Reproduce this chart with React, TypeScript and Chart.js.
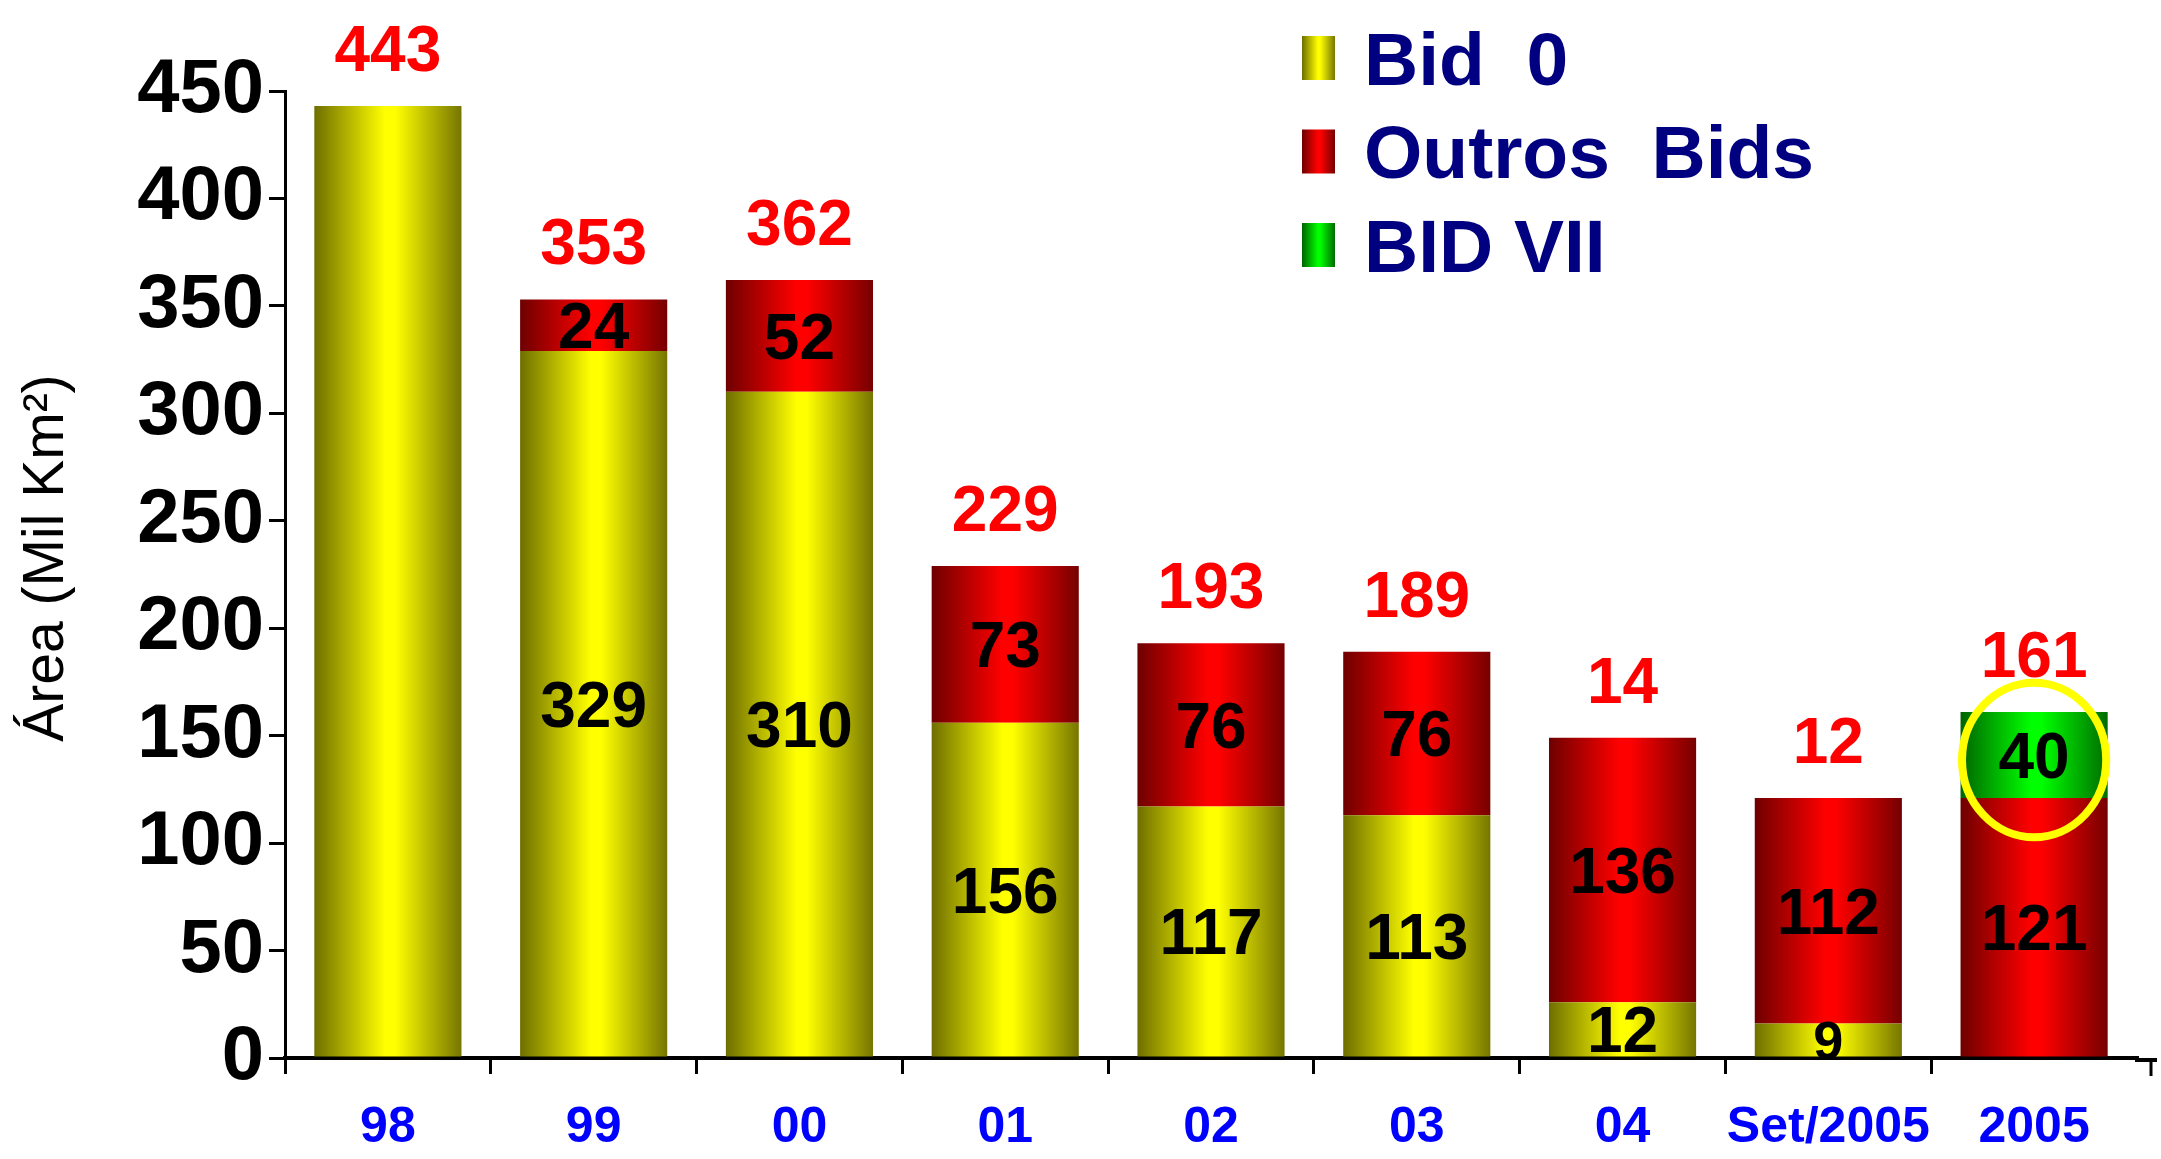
import React, { useEffect, useRef } from "react";
import { Chart, registerables } from "chart.js";

Chart.register(...registerables);

// ---------- data ----------
const categories = ["98", "99", "00", "01", "02", "03", "04", "Set/2005", "2005"];
const seriesNames = ["Bid  0", "Outros  Bids", "BID VII"];
const bid0Values = [443, 329, 310, 156, 117, 113, 26, 16, 0];
const outrosValues = [0, 24, 52, 73, 76, 76, 123, 105, 121];
const bidVIIValues = [0, 0, 0, 0, 0, 0, 0, 0, 40];
const bid0Labels = ["", "329", "310", "156", "117", "113", "12", "9", ""];
const outrosLabels = ["", "24", "52", "73", "76", "76", "136", "112", "121"];
const bidVIILabels = ["", "", "", "", "", "", "", "", "40"];
const totalLabels = ["443", "353", "362", "229", "193", "189", "14", "12", "161"];
const yMin = 0;
const yMax = 450;
const yStep = 50;
const yAxisTitle = "Área (Mil Km²)";
const highlightCategory = "2005";

// ---------- styles ----------
const FONT = "'Liberation Sans', Arial, Helvetica, sans-serif";
const BAR_PCT = 0.715;
const palettes = [
  ["#6e6e00", "#ffff00", "#767600"],
  ["#6e0000", "#ff0000", "#760000"],
  ["#006400", "#00ff00", "#006c00"],
];

function makeGrad(ctx: CanvasRenderingContext2D, x0: number, x1: number, pal: string[]) {
  const g = ctx.createLinearGradient(x0, 0, x1, 0);
  g.addColorStop(0, pal[0]);
  g.addColorStop(0.48, pal[1]);
  g.addColorStop(0.55, pal[1]);
  g.addColorStop(1, pal[2]);
  return g;
}

function barBg(pi: number) {
  return (c: any) => {
    const chart = c.chart;
    const xs = chart.scales && chart.scales.x;
    if (!xs || c.dataIndex === undefined) return palettes[pi][1];
    const cx = xs.getPixelForValue(c.dataIndex);
    const w = (xs.width / categories.length) * BAR_PCT;
    if (!isFinite(cx) || !isFinite(w) || w <= 0) return palettes[pi][1];
    return makeGrad(chart.ctx, cx - w / 2, cx + w / 2, palettes[pi]);
  };
}

const labelPlugin = {
  id: "valueLabels",
  afterDatasetsDraw(chart: any) {
    const ctx: CanvasRenderingContext2D = chart.ctx;
    const segLabels = [bid0Labels, outrosLabels, bidVIILabels];
    ctx.save();
    ctx.textAlign = "center";
    ctx.textBaseline = "alphabetic";
    segLabels.forEach((labels, di) => {
      const meta = chart.getDatasetMeta(di);
      labels.forEach((t, i) => {
        if (!t) return;
        const el = meta.data[i];
        const { x, y, base } = el.getProps(["x", "y", "base"], true);
        const h = Math.abs(base - y);
        const size = h < 50 ? 54 : 64;
        ctx.font = `bold ${size}px ${FONT}`;
        ctx.fillStyle = "#000000";
        ctx.fillText(t, x, (y + base) / 2 + size * 0.358);
      });
    });
    totalLabels.forEach((t, i) => {
      let top = Infinity;
      let x = 0;
      chart.data.datasets.forEach((ds: any, di: number) => {
        const el = chart.getDatasetMeta(di).data[i];
        if (ds.data[i] > 0) {
          const p = el.getProps(["x", "y"], true);
          if (p.y < top) top = p.y;
          x = p.x;
        }
      });
      ctx.font = `bold 64px ${FONT}`;
      ctx.fillStyle = "#ff0000";
      ctx.fillText(t, x, top - 58 + 64 * 0.358);
    });
    // highlight ellipse
    const hi = categories.indexOf(highlightCategory);
    if (hi >= 0) {
      const el = chart.getDatasetMeta(2).data[hi];
      const { x, y, base, width } = el.getProps(["x", "y", "base", "width"], true);
      ctx.beginPath();
      ctx.ellipse(x, (y + base) / 2 + 5, width * 0.49, width * 0.525, 0, 0, Math.PI * 2);
      ctx.strokeStyle = "#ffff00";
      ctx.lineWidth = 8;
      ctx.stroke();
    }
    ctx.restore();
  },
  afterDraw(chart: any) {
    const ctx: CanvasRenderingContext2D = chart.ctx;
    const ca = chart.chartArea;
    ctx.save();
    // x axis extension with end tick
    ctx.strokeStyle = "#000000";
    ctx.lineWidth = 4;
    ctx.beginPath();
    ctx.moveTo(ca.right - 2, ca.bottom + 2);
    ctx.lineTo(ca.right + 20, ca.bottom + 2);
    ctx.stroke();
    ctx.lineWidth = 3;
    ctx.beginPath();
    ctx.moveTo(ca.right + 14, ca.bottom + 2);
    ctx.lineTo(ca.right + 14, ca.bottom + 18);
    ctx.stroke();
    // y axis title
    ctx.save();
    ctx.translate(47, ca.top + (ca.bottom - ca.top) * 0.483);
    ctx.rotate(-Math.PI / 2);
    ctx.font = `normal 57px ${FONT}`;
    ctx.fillStyle = "#000000";
    ctx.textAlign = "center";
    ctx.textBaseline = "middle";
    ctx.fillText(yAxisTitle, 0, 0);
    ctx.restore();
    // legend
    const lx = 1302;
    const sw = 33;
    const sh = 44;
    const tx = 1364;
    const size = 75;
    ctx.font = `bold ${size}px ${FONT}`;
    ctx.textAlign = "left";
    ctx.textBaseline = "alphabetic";
    seriesNames.forEach((name, i) => {
      const cy = 58 + i * 93.5;
      ctx.fillStyle = makeGrad(ctx, lx, lx + sw, palettes[i]);
      ctx.fillRect(lx, cy - sh / 2, sw, sh);
      ctx.fillStyle = "#000080";
      ctx.fillText(name, tx, cy + size * 0.358);
    });
    ctx.restore();
  },
};

export default function App() {
  const ref = useRef<HTMLCanvasElement | null>(null);
  useEffect(() => {
    document.body.style.margin = "0";
    document.body.style.overflow = "hidden";
    if (!ref.current) return;
    const chart = new Chart(ref.current, {
      type: "bar",
      data: {
        labels: categories,
        datasets: [
          { label: seriesNames[0], data: bid0Values, backgroundColor: barBg(0) as any, borderWidth: 0, barPercentage: BAR_PCT, categoryPercentage: 1 },
          { label: seriesNames[1], data: outrosValues, backgroundColor: barBg(1) as any, borderWidth: 0, barPercentage: BAR_PCT, categoryPercentage: 1 },
          { label: seriesNames[2], data: bidVIIValues, backgroundColor: barBg(2) as any, borderWidth: 0, barPercentage: BAR_PCT, categoryPercentage: 1 },
        ],
      },
      options: {
        responsive: false,
        animation: false,
        devicePixelRatio: 1,
        layout: { padding: { top: 91, right: 24, bottom: 0, left: 0 } },
        plugins: { legend: { display: false }, tooltip: { enabled: false } },
        scales: {
          x: {
            stacked: true,
            grid: {
              display: true,
              drawOnChartArea: false,
              drawTicks: true,
              tickLength: 16,
              lineWidth: 3,
              offset: true,
              color: (c: any) => (c.type === "tick" ? "#000000" : "rgba(0,0,0,0)"),
            },
            border: { display: true, color: "#000000", width: 4 },
            ticks: {
              color: "#0000ff",
              font: { family: FONT, size: 50, weight: "bold" },
              padding: 24,
              maxRotation: 0,
              autoSkip: false,
            },
            afterFit: (s: any) => {
              s.height = 101;
            },
          },
          y: {
            stacked: true,
            min: yMin,
            max: yMax,
            grid: { display: true, drawOnChartArea: false, drawTicks: true, tickLength: 16, lineWidth: 3, color: "#000000" },
            border: { display: true, color: "#000000", width: 3 },
            ticks: {
              stepSize: yStep,
              color: "#000000",
              font: { family: FONT, size: 76, weight: "bold" },
              padding: 5,
            },
            title: { display: false },
            afterFit: (s: any) => {
              s.width = 285;
            },
          },
        },
      } as any,
      plugins: [labelPlugin],
    });
    return () => chart.destroy();
  }, []);
  return <canvas ref={ref} width={2161} height={1159} style={{ display: "block" }} />;
}
